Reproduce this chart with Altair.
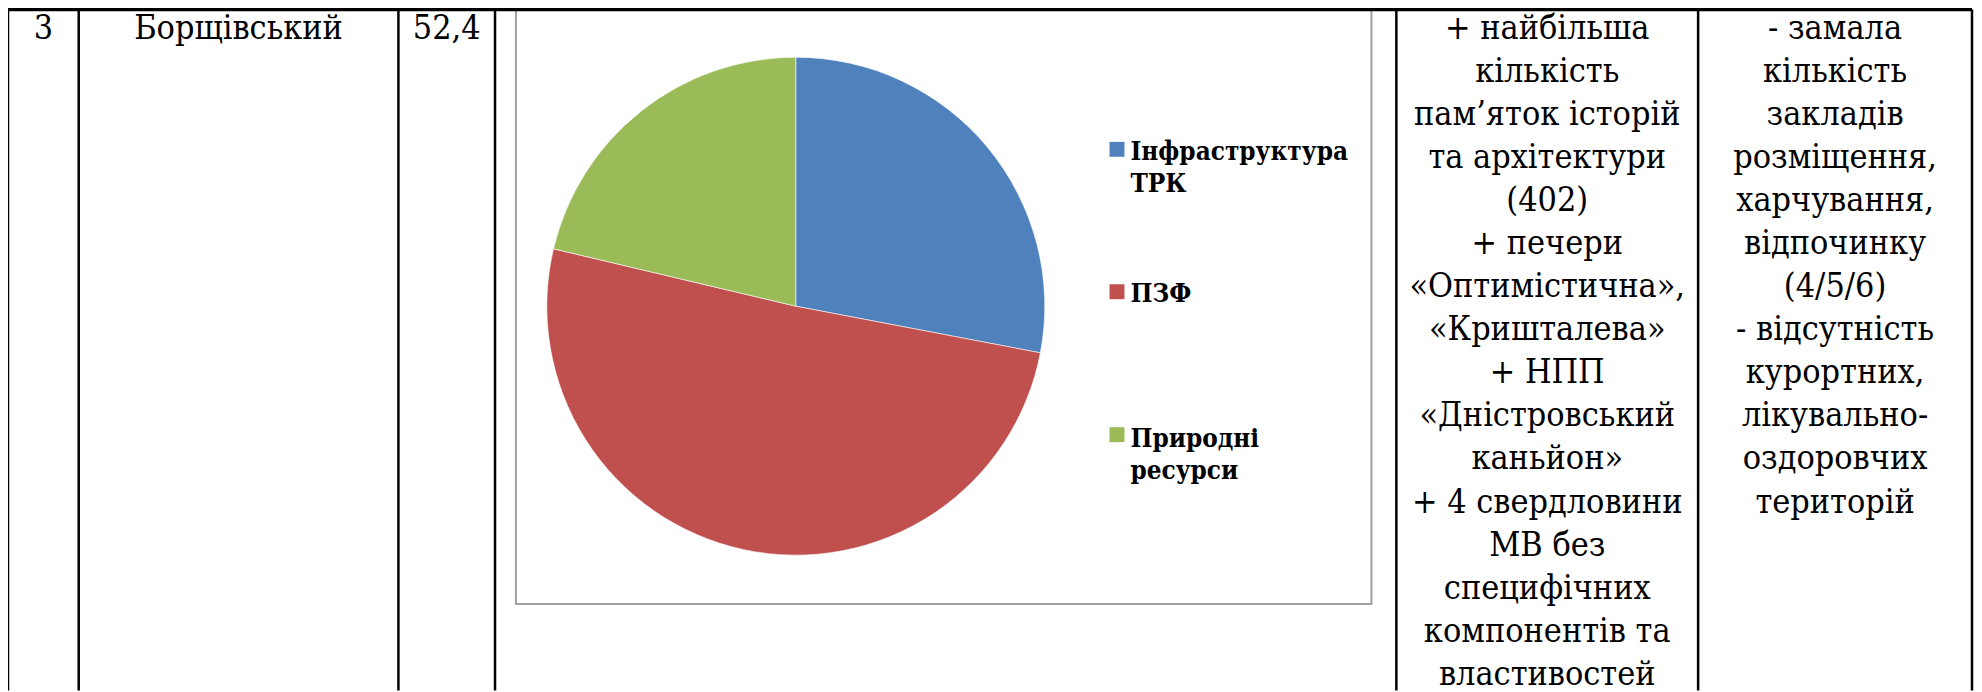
import altair as alt
import pandas as pd

# ---------------- data ----------------
row_number = "3"
district = "Борщівський"
score = "52,4"

pie_categories = ["Інфраструктура ТРК", "ПЗФ", "Природні ресурси"]
legend_labels = ["Інфраструктура\nТРК", "ПЗФ", "Природні\nресурси"]
pie_values = [28.0, 50.7, 21.3]
pie_colors = ["#4F81BD", "#C0504D", "#9BBB59"]

strengths = [
    "+ найбільша", "кількість", "пам’яток історій", "та архітектури", "(402)",
    "+ печери", "«Оптимістична»,", "«Кришталева»", "+ НПП", "«Дністровський",
    "каньйон»", "+ 4 свердловини", "МВ без", "специфічних", "компонентів та",
    "властивостей",
]
weaknesses = [
    "- замала", "кількість", "закладів", "розміщення,", "харчування,",
    "відпочинку", "(4/5/6)", "- відсутність", "курортних,", "лікувально-",
    "оздоровчих", "територій",
]

# ---------------- layout (pixels in chart space) ----------------
W, H = 1974, 684
col_edges = [0, 71, 392, 489, 1394, 1697, 1972]
text_baseline = 30
line_h = 43.2
box = dict(x=510, x2=1369, y=0, y2=597)
pie_cx, pie_cy, pie_r = 791, 298, 250
legend_sym_x = 1113.5
legend_sym_y = [140.5, 283.5, 427]
legend_txt_x = 1127
legend_txt_y = [151, 294, 439]
SERIF = "DejaVu Serif Condensed, DejaVu Serif, serif"

xs = alt.Scale(domain=[0, W], nice=False, zero=False)
ys = alt.Scale(domain=[0, H], nice=False, zero=False, reverse=True)
color_scale = alt.Scale(domain=pie_categories, range=pie_colors)

def X(f="x"):
    return alt.X(f"{f}:Q", scale=xs, axis=None)

def Y(f="y"):
    return alt.Y(f"{f}:Q", scale=ys, axis=None)

# chart frame box
box_df = pd.DataFrame([box])
frame = alt.Chart(box_df).mark_rect(fillOpacity=0, stroke="#a0a0a0", strokeWidth=2).encode(
    x=X("x"), x2="x2", y=Y("y"), y2="y2"
)

# pie
pie_df = pd.DataFrame({"category": pie_categories, "value": pie_values,
                       "order": list(range(len(pie_values)))})
pie = alt.Chart(pie_df).mark_arc(outerRadius=pie_r, stroke="white", strokeWidth=0.6).encode(
    theta=alt.Theta("value:Q", stack=True),
    color=alt.Color("category:N", scale=color_scale, legend=None),
    order=alt.Order("order:Q"),
    x=alt.value(pie_cx),
    y=alt.value(pie_cy),
)

# legend built from the same categories and colour scale
leg_df = pd.DataFrame({"category": pie_categories, "label": legend_labels,
                       "sx": [legend_sym_x] * 3, "sy": legend_sym_y,
                       "tx": [legend_txt_x] * 3, "ty": legend_txt_y})
leg_sym = alt.Chart(leg_df).mark_square(size=225, opacity=1).encode(
    x=X("sx"), y=Y("sy"),
    color=alt.Color("category:N", scale=color_scale, legend=None),
)
leg_txt = alt.Chart(leg_df).mark_text(
    align="left", baseline="alphabetic", font=SERIF, fontWeight="bold",
    fontSize=26, lineHeight=32.7, lineBreak="\n", color="black",
).encode(x=X("tx"), y=Y("ty"), text="label:N")

# table lines
vlines = pd.DataFrame({"x": col_edges, "y": [0] * len(col_edges), "y2": [H] * len(col_edges)})
vrules = alt.Chart(vlines).mark_rule(color="black", strokeWidth=2.5).encode(
    x=X("x"), y=Y("y"), y2="y2"
)
hlines = pd.DataFrame({"x": [0], "x2": [col_edges[-1]], "y": [0]})
hrules = alt.Chart(hlines).mark_rule(color="black", strokeWidth=3.5).encode(
    x=X("x"), x2="x2", y=Y("y")
)

# table cell texts
centers = [(col_edges[i] + col_edges[i + 1]) / 2 for i in range(len(col_edges) - 1)]
cells = pd.DataFrame({
    "x": [centers[0], centers[1], centers[2], centers[4], centers[5]],
    "y": [text_baseline] * 5,
    "text": [row_number, district, score, "\n".join(strengths), "\n".join(weaknesses)],
})
cell_txt = alt.Chart(cells).mark_text(
    align="center", baseline="alphabetic", font=SERIF, fontSize=34,
    lineHeight=line_h, lineBreak="\n", color="black",
).encode(x=X("x"), y=Y("y"), text="text:N")

chart = alt.layer(frame, pie, leg_sym, leg_txt, vrules, hrules, cell_txt).properties(
    width=W, height=H, padding=0,
    autosize=alt.AutoSizeParams(type="none"),
    background="white",
).configure_view(strokeWidth=0)

chart.save("out.html", embed_options={"renderer": "svg", "actions": False})
